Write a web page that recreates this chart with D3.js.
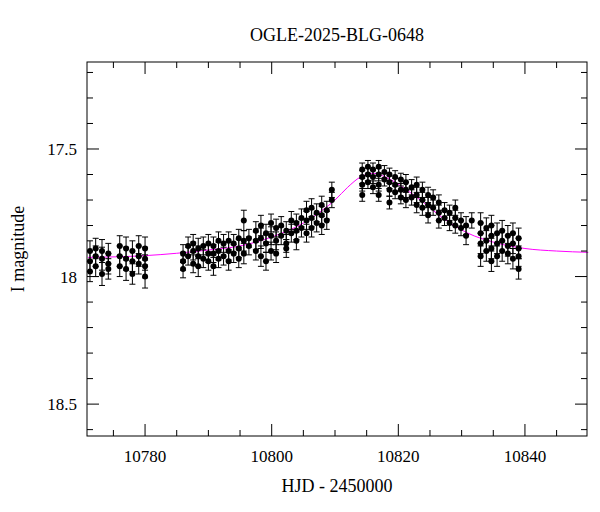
<!DOCTYPE html>
<html><head><meta charset="utf-8">
<script src="https://cdn.jsdelivr.net/npm/d3@7"></script>
<style>
body{margin:0;background:#fff}
text{font-family:"Liberation Serif","DejaVu Serif",serif;fill:#000}
</style></head>
<body><svg id="chart" width="600" height="512"></svg>
<script>
const TITLE = "OGLE-2025-BLG-0648";
// nightly observations: HJD-2450000, I magnitudes, typical error
const NIGHT_HJD = [10771.3,10772.2,10773.2,10774.2,10776.0,10777.0,10778.0,10779.0,10780.0,
  10786.0,10786.8,10787.6,10788.4,10789.2,10790.0,10790.8,10791.6,10792.4,10793.2,10794.0,10794.8,10795.6,10796.4,
  10797.5,10798.3,10799.1,10799.9,10800.7,10801.5,10802.3,10803.1,10803.9,10804.7,10805.5,10806.3,10807.1,10807.9,10808.7,10809.5,
  10814.3,10815.2,10816.0,10816.9,10817.8,10818.6,10819.5,10820.4,10821.2,10822.1,10822.9,10823.8,10824.7,10825.5,10826.4,
  10827.3,10828.1,10829.0,10829.9,10830.7,10831.6,10833.0,10833.9,10834.7,10835.6,10836.4,10837.3,10838.1,10839.0];
const NIGHT_MAGS = [[17.90,17.94,17.98],[17.89,17.92,17.96],[17.90,17.93,17.99],[17.91,17.95,17.97],
  [17.88,17.92,17.96],[17.89,17.93,17.97],[17.90,17.94,17.99],[17.88,17.92,17.95],[17.89,17.93,17.96,18.0],
  [17.91,17.94,17.97],[17.88,17.92],[17.87,17.90,17.95],[17.89,17.92,17.96],[17.88,17.93],[17.87,17.91,17.94],
  [17.88,17.91,17.96],[17.86,17.90,17.93],[17.87,17.92],[17.86,17.90,17.94],[17.87,17.91],[17.85,17.89,17.93],
  [17.78,17.86,17.91],[17.85,17.88],
  [17.82,17.86,17.90],[17.80,17.85,17.92],[17.83,17.87,17.94],[17.79,17.84,17.90],[17.81,17.86,17.91],[17.80,17.84],
  [17.82,17.87,17.89],[17.78,17.83],[17.79,17.82,17.86],[17.77,17.81],[17.74,17.78,17.83],[17.73,17.77,17.81],
  [17.75,17.79],[17.72,17.76,17.80],[17.74,17.78],[17.66,17.70],
  [17.58,17.61,17.64,17.68],[17.57,17.60,17.63],[17.58,17.61,17.65],[17.57,17.60,17.64,17.68],[17.59,17.62],
  [17.60,17.63,17.66,17.71],[17.61,17.64,17.67],[17.62,17.66,17.69],[17.63,17.66,17.70],[17.65,17.69],
  [17.64,17.68,17.72],[17.66,17.70,17.73],[17.68,17.72,17.76],[17.69,17.73],[17.71,17.75,17.78],
  [17.74,17.77],[17.75,17.79],[17.73,17.77,17.80],[17.78,17.81],[17.80,17.84],[17.78],
  [17.79,17.83,17.87,17.92],[17.81,17.86,17.90],[17.80,17.84,17.89,17.94],[17.83,17.87,17.92],[17.82,17.86,17.90],
  [17.84,17.88,17.91],[17.83,17.87,17.93],[17.85,17.89,17.92,17.97]];
const NIGHT_ERR = [0.04,0.04,0.045,0.04,0.04,0.045,0.04,0.04,0.045,
  0.035,0.035,0.035,0.04,0.035,0.035,0.035,0.035,0.035,0.035,0.035,0.035,0.04,0.035,
  0.035,0.04,0.035,0.035,0.035,0.035,0.035,0.035,0.035,0.035,0.035,0.035,0.035,0.035,0.035,0.03,
  0.025,0.025,0.025,0.025,0.025,0.025,0.025,0.025,0.03,0.03,0.03,0.03,0.03,0.03,0.03,
  0.03,0.03,0.03,0.03,0.035,0.03,0.04,0.04,0.04,0.04,0.04,0.04,0.04,0.04];
// model curve samples
const MODEL_HJD = [10771,10780,10790,10795,10800,10805,10808,10810,10812,10814,10816,10818,10821,10824,10827,10831,10835,10840,10845,10850];
const MODEL_MAG = [17.925,17.918,17.896,17.88,17.845,17.79,17.74,17.70,17.65,17.61,17.595,17.61,17.655,17.71,17.77,17.83,17.865,17.89,17.90,17.905];

const L = 87, R = 587, T = 62, B = 436;
const svg = d3.select("#chart");
const x = d3.scaleLinear().domain([10770.83, 10849.8]).range([L, R]);
const y = d3.scaleLinear().domain([17.159, 18.625]).range([T, B]);

const pts = [];
NIGHT_HJD.forEach((t, i) => NIGHT_MAGS[i].forEach(m => pts.push({t, m, e: NIGHT_ERR[i]})));

const plot = svg.append("g");
plot.append("path")
  .datum(MODEL_HJD.map((t, i) => [t, MODEL_MAG[i]]))
  .attr("fill", "none").attr("stroke", "#ff00ff").attr("stroke-width", 1)
  .attr("d", d3.line().x(d => x(d[0])).y(d => y(d[1])).curve(d3.curveMonotoneX));

const g = plot.selectAll("g.pt").data(pts).join("g");
g.append("line").attr("x1", d => x(d.t)).attr("x2", d => x(d.t))
  .attr("y1", d => y(d.m - d.e)).attr("y2", d => y(d.m + d.e)).attr("stroke", "#000");
[-1, 1].forEach(s => g.append("line")
  .attr("x1", d => x(d.t) - 3).attr("x2", d => x(d.t) + 3)
  .attr("y1", d => y(d.m + s * d.e)).attr("y2", d => y(d.m + s * d.e)).attr("stroke", "#000"));
g.append("circle").attr("cx", d => x(d.t)).attr("cy", d => y(d.m)).attr("r", 3).attr("fill", "#000");

// frame and inward ticks
svg.append("rect").attr("x", L).attr("y", T).attr("width", R - L).attr("height", B - T)
  .attr("fill", "none").attr("stroke", "#000");
const ax = svg.append("g").attr("stroke", "#000");
d3.range(10775, 10850, 5).forEach(v => {
  const len = v % 20 === 0 ? 12 : 6, px = x(v);
  ax.append("line").attr("x1", px).attr("x2", px).attr("y1", B).attr("y2", B - len);
  ax.append("line").attr("x1", px).attr("x2", px).attr("y1", T).attr("y2", T + len);
});
d3.range(17.2, 18.61, 0.1).forEach(v => {
  const major = Math.abs(v * 2 - Math.round(v * 2)) < 1e-6, len = major ? 12 : 6, py = y(v);
  ax.append("line").attr("x1", L).attr("x2", L + len).attr("y1", py).attr("y2", py);
  ax.append("line").attr("x1", R).attr("x2", R - len).attr("y1", py).attr("y2", py);
});
[10780, 10800, 10820, 10840].forEach(v => svg.append("text").attr("x", x(v)).attr("y", B + 26)
  .attr("text-anchor", "middle").attr("font-size", 17).text(v));
[17.5, 18, 18.5].forEach(v => svg.append("text").attr("x", L - 10).attr("y", y(v) + 6)
  .attr("text-anchor", "end").attr("font-size", 17).text(v));

svg.append("text").attr("x", 337).attr("y", 41).attr("text-anchor", "middle").attr("font-size", 18).text(TITLE);
svg.append("text").attr("x", 337).attr("y", 492).attr("text-anchor", "middle").attr("font-size", 18).text("HJD - 2450000");
svg.append("text").attr("transform", `translate(24,${(T + B) / 2}) rotate(-90)`)
  .attr("text-anchor", "middle").attr("font-size", 18).text("I magnitude");
</script></body></html>
